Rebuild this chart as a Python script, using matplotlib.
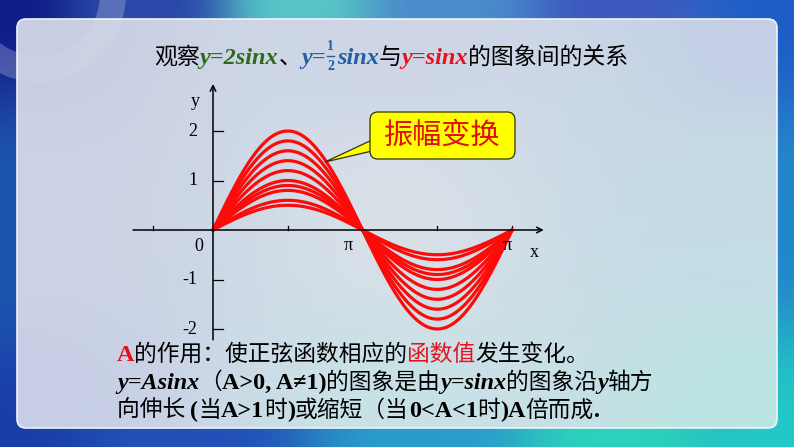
import numpy as np
import matplotlib
matplotlib.use("Agg")
import matplotlib.pyplot as plt
from matplotlib.patches import FancyBboxPatch, Polygon, Wedge, Arc

W, H = 794, 447

# curve data: amplitudes of y = A sin x
amplitudes = [2.0, 1.8, 1.6, 1.4, 1.2, 1.0, 0.9, 0.8, 0.6, 0.5]
y_ticks = [2, 1, -1, -2]
y_tick_labels = ["2", "1", "-1", "-2"]
x_ticks = [-1.26, np.pi / 2, 3 * np.pi / 2, 2 * np.pi]

CJK = ["Noto Sans CJK SC", "DejaVu Sans"]
SERIF = ["Liberation Serif", "DejaVu Serif"]


def idw_background(points, w, h, step=4):
    xs = np.arange(0, w + step, step)
    ys = np.arange(0, h + step, step)
    gx, gy = np.meshgrid(xs, ys)
    num = np.zeros(gx.shape + (3,))
    den = np.zeros(gx.shape)
    for px, py, col in points:
        c = np.array(matplotlib.colors.to_rgb(col))
        d = (gx - px) ** 2 + (gy - py) ** 2 + 1.0
        wgt = 1.0 / d ** 1.3
        num += wgt[..., None] * c
        den += wgt
    return num / den[..., None]


def put_run(ax, x, y, pieces, renderer):
    for text, color, kw in pieces:
        t = ax.text(x, y, text, color=color, va="baseline", ha="left", **kw)
        x += t.get_window_extent(renderer).width
    return x


def main():
    fig = plt.figure(figsize=(W / 100, H / 100), dpi=100)
    renderer = fig.canvas.get_renderer()

    # ---- background slide ----
    bg = fig.add_axes([0, 0, 1, 1])
    bg.set_xlim(0, W)
    bg.set_ylim(H, 0)
    bg.axis("off")
    frame_pts = [
        (0, 0, "#101c88"), (150, 0, "#2a48a8"), (300, 3, "#58c6c8"),
        (450, 3, "#4a8ccc"), (620, 0, "#3e58c0"), (794, 0, "#1c5ec6"),
        (794, 220, "#2286cc"), (794, 447, "#22c8c8"), (620, 447, "#2cd2bc"),
        (420, 447, "#2a9ccc"), (200, 447, "#2250b8"), (0, 447, "#1a3ea8"),
        (0, 220, "#1a56b0"),
    ]
    bg.imshow(idw_background(frame_pts, W, H), extent=(0, W, H, 0),
              interpolation="bilinear", aspect="auto", zorder=0)
    bg.add_patch(Wedge((38, -6), 88, 0, 360, width=26, facecolor="white",
                       alpha=0.16, edgecolor="none", zorder=0.5))
    bg.add_patch(Arc((330, 1150), 1000, 1450, theta1=100, theta2=125,
                     color="white", alpha=0.35, lw=0.8, zorder=0.5))
    panel_pts = [
        (17, 19, "#c8cde2"), (400, 19, "#cdd5e6"), (777, 19, "#c4cee6"),
        (400, 220, "#d8e0e8"), (17, 428, "#c6cde6"), (400, 428, "#c8e2e6"),
        (777, 428, "#bae6e2"), (777, 220, "#c6dde6"), (17, 220, "#cdd3e6"),
    ]
    im = bg.imshow(idw_background(panel_pts, W, H), extent=(0, W, H, 0),
                   interpolation="bilinear", aspect="auto", zorder=1)
    clip = FancyBboxPatch((17, 19), 760, 409, boxstyle="round,pad=0,rounding_size=9",
                          transform=bg.transData, facecolor="none", edgecolor="none")
    bg.add_patch(clip)
    im.set_clip_path(clip)
    bg.add_patch(FancyBboxPatch((17, 19), 760, 409, boxstyle="round,pad=0,rounding_size=9",
                                facecolor="none", edgecolor="#eef4fa", lw=1.2, zorder=2))
    bg.add_patch(Wedge((38, -6), 88, 0, 360, width=26, facecolor="white",
                       alpha=0.08, edgecolor="none", zorder=2))

    # ---- chart ----
    x0, y0, sx, sy = 213.0, 230.0, 47.6, 49.5
    xl, xr, yb, yt = -1.8, 7.0, -2.4, 3.0
    left = x0 + xl * sx
    right = x0 + xr * sx
    top = y0 - yt * sy
    bottom = y0 - yb * sy
    ax = fig.add_axes([left / W, 1 - bottom / H, (right - left) / W, (bottom - top) / H])
    ax.set_xlim(xl, xr)
    ax.set_ylim(yb, yt)
    ax.axis("off")
    ax.patch.set_alpha(0)

    x = np.linspace(0, 2 * np.pi, 400)
    for a in amplitudes:
        ax.plot(x, a * np.sin(x), color="#ff0a0a", lw=2.3, solid_capstyle="round", zorder=3)

    ax.annotate("", xy=(6.95, 0), xytext=(-1.68, 0),
                arrowprops=dict(arrowstyle="->", lw=1.1, color="black", shrinkA=0, shrinkB=0))
    ax.annotate("", xy=(0, 2.95), xytext=(0, -2.22),
                arrowprops=dict(arrowstyle="->", lw=1.1, color="black", shrinkA=0, shrinkB=0))
    for v, lab in zip(y_ticks, y_tick_labels):
        ax.plot([0, 0.21], [v, v], color="black", lw=0.9)
        ax.text(-0.33, v, lab, ha="right", va="center", family=SERIF, fontsize=13)
    for v in x_ticks:
        ax.plot([v, v], [0, 0.08], color="black", lw=0.9)
    ax.text(-0.29, -0.33, "0", ha="center", va="center", family=SERIF, fontsize=13)
    ax.text(np.pi - 0.3, -0.32, "π", ha="center", va="center", family=SERIF, fontsize=13)
    ax.text(2 * np.pi - 0.1, -0.32, "π", ha="center", va="center", family=SERIF, fontsize=13)
    ax.text(6.75, -0.45, "x", ha="center", va="center", family=SERIF, fontsize=13)
    ax.text(-0.38, 2.6, "y", ha="center", va="center", family=SERIF, fontsize=13)

    # ---- overlay text ----
    ov = fig.add_axes([0, 0, 1, 1])
    ov.set_xlim(0, W)
    ov.set_ylim(H, 0)
    ov.axis("off")
    ov.patch.set_alpha(0)

    ov.add_patch(Polygon([(372, 140), (372, 151), (325, 162)], closed=True,
                         facecolor="#ffff00", edgecolor="#333300", lw=0.9, zorder=4))
    ov.add_patch(FancyBboxPatch((370, 112), 145, 47, boxstyle="round,pad=0,rounding_size=8",
                                facecolor="#ffff00", edgecolor="#333300", lw=0.9, zorder=5))
    ov.text(442, 136, "振幅变换", color="#e01010", family=CJK, fontsize=21,
            ha="center", va="center", zorder=6)

    ts = 16.5
    cj = dict(family=CJK, fontsize=ts)
    bi = dict(family=SERIF, fontsize=ts + 1, weight="bold", style="italic")
    green, blue, red = "#2d6a1c", "#1f5fa4", "#e8101c"
    xp = put_run(ov, 154, 64, [
        ("观察", "black", cj), ("y=2sinx", green, bi), ("、", "black", cj),
        ("y=", blue, bi),
    ], renderer)
    fk = dict(family=SERIF, fontsize=10, weight="bold", color=blue, ha="center")
    ov.text(xp + 5, 47, "1", va="center", **fk)
    ov.plot([xp + 1.5, xp + 8.5], [56, 56], color=blue, lw=1)
    ov.text(xp + 5, 66, "2", va="center", **fk)
    put_run(ov, xp + 11, 64, [
        ("sinx", blue, bi), ("与", "black", cj), ("y=sinx", red, bi),
        ("的图象间的关系", "black", cj),
    ], renderer)

    bs = 16.4
    cj = dict(family=CJK, fontsize=bs)
    sb = dict(family=SERIF, fontsize=bs + 1, weight="bold")
    si = dict(family=SERIF, fontsize=bs + 1, weight="bold", style="italic")
    put_run(ov, 117, 361, [
        ("A", red, sb), ("的作用：使正弦函数相应的", "black", cj),
        ("函数值", red, cj), ("发生变化。", "black", cj),
    ], renderer)
    put_run(ov, 117, 389, [
        ("y=Asinx", "black", si), ("（", "black", cj), ("A>0, A≠1)", "black", sb),
        ("的图象是由", "black", cj), ("y=sinx", "black", si), ("的图象沿", "black", cj),
        ("y", "black", si), ("轴方", "black", cj),
    ], renderer)
    put_run(ov, 117, 417, [
        ("向伸长 ", "black", cj), ("(", "black", sb), ("当", "black", cj),
        ("A>1", "black", sb), ("时", "black", cj), (")", "black", sb),
        ("或缩短（当", "black", cj), ("0<A<1", "black", sb), ("时", "black", cj),
        (")A", "black", sb), ("倍而成", "black", cj), (".", "black", sb),
    ], renderer)

    fig.savefig("out.png", dpi=100)
    plt.close(fig)
    return 0


if __name__ == "__main__":
    raise SystemExit(main())
